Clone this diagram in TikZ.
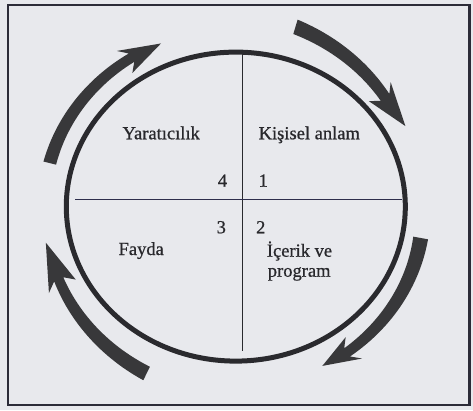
\documentclass[tikz,border=0pt]{standalone}
\usepackage{fontspec}
\setmainfont{Liberation Serif}[FakeBold=0.7]
\begin{document}
\begin{tikzpicture}[x=1pt,y=-1pt,
  lbl/.style={inner sep=0pt, anchor=base, font=\fontsize{18.5}{20}\selectfont, text=txtc},
  arrowfill/.style={fill=arrc}]
\definecolor{bgc}{HTML}{E8E9ED}
\definecolor{arrc}{HTML}{38383A}
\definecolor{circc}{HTML}{2A2A2E}
\definecolor{txtc}{HTML}{28282C}
\definecolor{hlinec}{HTML}{2E2E4C}
\definecolor{framec}{HTML}{2C2C38}
\def\cx{235.8}\def\cy{206.6}\def\rx{192}\def\ry{176}
% #1 tail angle, #2 head-base angle, #3 tip angle, #4 radial offset at tail,
% #5 radial offset at head, #6 half width at tail, #7 half width at head base,
% #8 head half width, #9 barb sweep (deg)
\newcommand{\bigarrow}[9]{%
  \fill[arrowfill]
    plot[domain=0:1, samples=30, variable=\s]
      ({\cx+(\rx+#4+(#5-#4)*\s+#6+(#7-#6)*\s)*cos(#1+(#2-#1)*\s)},
       {\cy+(\ry+#4+(#5-#4)*\s+#6+(#7-#6)*\s)*sin(#1+(#2-#1)*\s)})
    -- ({\cx+(\rx+#5+#8)*cos(#2-#9)},{\cy+(\ry+#5+#8)*sin(#2-#9)})
    -- ({\cx+(\rx+#5)*cos(#3)},{\cy+(\ry+#5)*sin(#3)})
    -- ({\cx+(\rx+#5-#8)*cos(#2-#9)},{\cy+(\ry+#5-#8)*sin(#2-#9)})
    -- plot[domain=0:1, samples=30, variable=\s]
      ({\cx+(\rx+#5+(#4-#5)*\s-#7-(#6-#7)*\s)*cos(#2+(#1-#2)*\s)},
       {\cy+(\ry+#5+(#4-#5)*\s-#7-(#6-#7)*\s)*sin(#2+(#1-#2)*\s)})
    -- cycle;}
% background and frame
\fill[bgc] (0,0) rectangle (473,410);
\useasboundingbox (0,0) rectangle (473,410);
\draw[framec, line width=2.6pt] (8,5) rectangle (469.5,405);
% circle
\draw[circc, line width=5pt] (\cx,\cy) ellipse [x radius=169.5, y radius=154.5];
% quadrant lines
\coordinate (vt) at (242.3,52);
\coordinate (vb) at (242.3,350.7);
\coordinate (hl) at (75,199.3);
\coordinate (hr) at (402,199.3);
\draw[circc, line width=1.4pt] (vt) -- (vb);
\draw[hlinec, line width=1.6pt] (hl) -- (hr);
% curved arrows (clockwise)
\bigarrow{194.3}{237.3}{247.2}{0}{1}{6.5}{5}{13.5}{2.5}
\bigarrow{287}{321.4}{332.6}{12}{-1}{7.5}{5.5}{14.5}{2.5}
\bigarrow{10.5}{55}{63.5}{-4}{2}{7.5}{5}{13.5}{2.5}
\bigarrow{116.2}{155.9}{168.3}{10}{2}{7.5}{5}{15}{2.5}
% labels
\node[lbl] (yar) at (161.2,139.3) {Yaratıcılık};
\node[lbl] (kis) at (309.3,139.3) {Kişisel anlam};
\node[lbl] (n4) at (222.5,186.7) {4};
\node[lbl] (n1) at (263.3,186.7) {1};
\node[lbl] (n3) at (221.3,233.3) {3};
\node[lbl] (n2) at (260.8,233.3) {2};
\node[lbl] (fay) at (141.2,255) {Fayda};
\node[lbl] (ice) at (299.5,256.7) {İçerik ve};
\node[lbl] (pro) at (299.2,276.7) {program};
\end{tikzpicture}
\end{document}
